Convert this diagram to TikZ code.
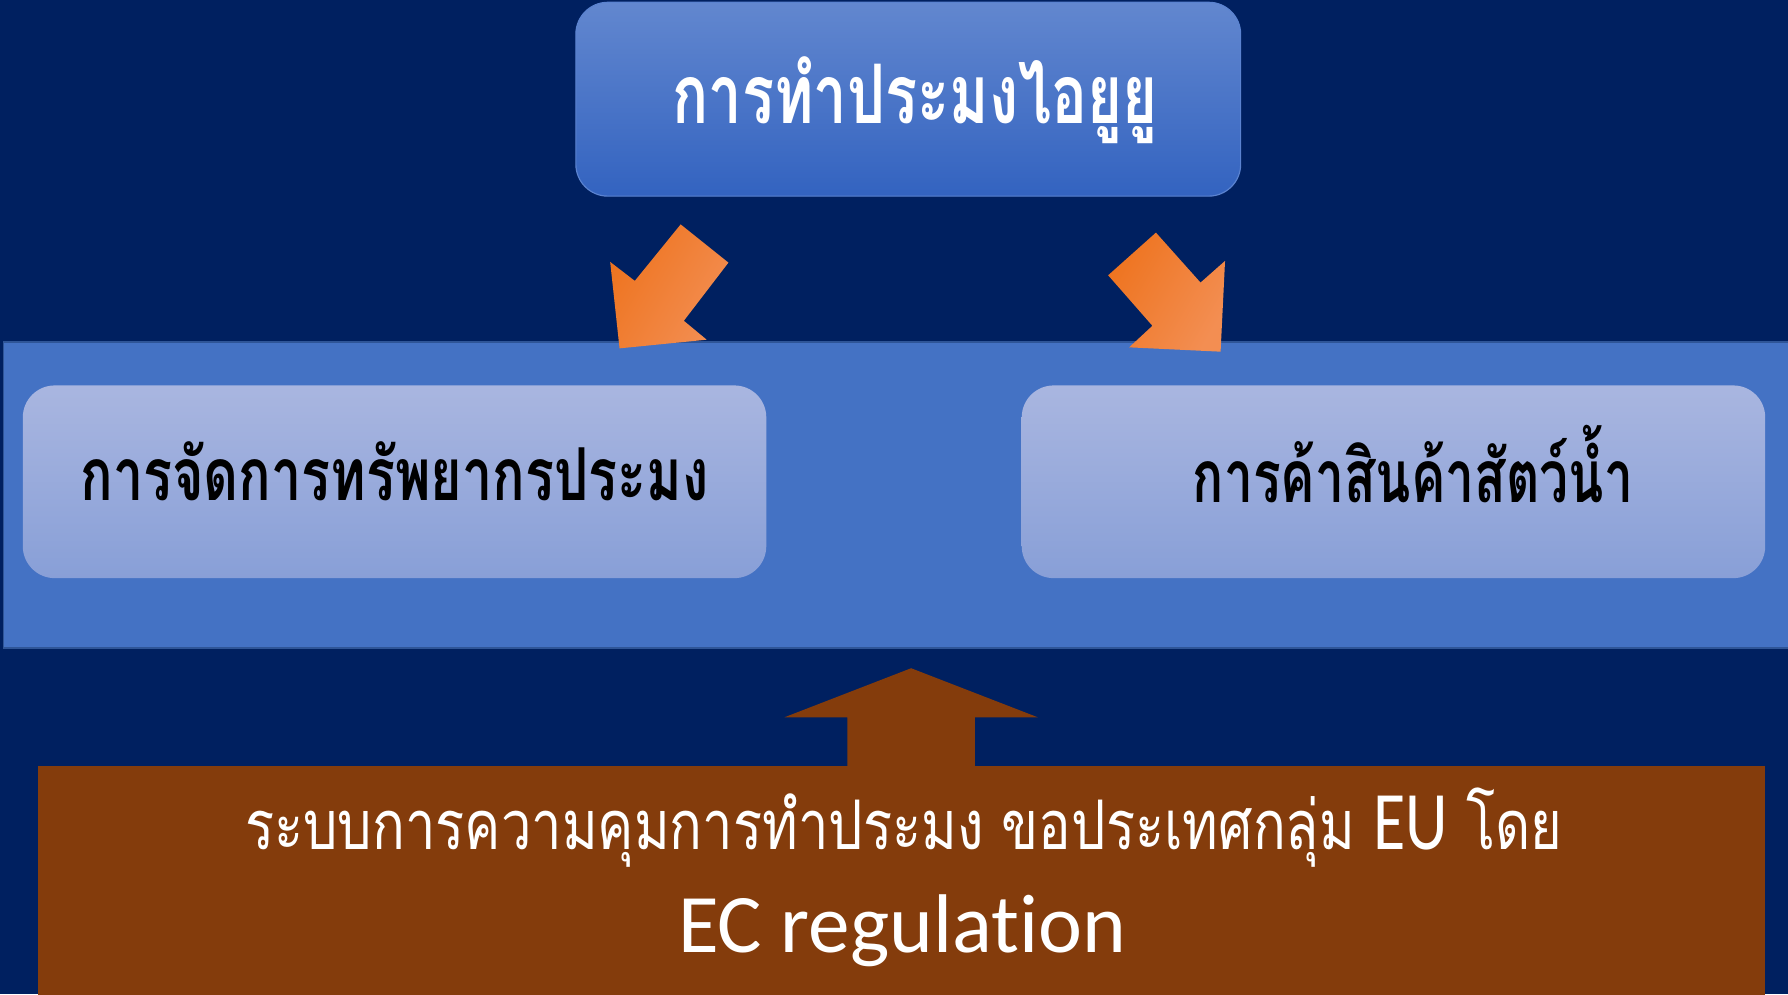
\documentclass[tikz,border=0pt]{standalone}
\usepackage{fontspec}
\setmainfont{Carlito}[Ligatures=NoCommon]
\newfontfamily\thaifont[Script=Thai]{Loma}
\definecolor{bgnavy}{HTML}{002060}
\definecolor{bandblue}{HTML}{4472C4}
\definecolor{bandedge}{HTML}{2F5597}
\definecolor{topA}{HTML}{6287CF}
\definecolor{topB}{HTML}{3363C0}
\definecolor{topedge}{HTML}{5B83D0}
\definecolor{innerA}{HTML}{A9B6E0}
\definecolor{innerB}{HTML}{889FD7}
\definecolor{orangeA}{HTML}{EE7420}
\definecolor{orangeB}{HTML}{F38E52}
\definecolor{brown}{HTML}{843C0C}
\tikzset{
  topbox/.style={draw=topedge, line width=1pt, rounded corners=28pt, top color=topA, bottom color=topB, minimum width=583pt, minimum height=170pt, inner sep=0pt},
  innerbox/.style={draw=none, rounded corners=28pt, top color=innerA, bottom color=innerB, minimum width=652pt, minimum height=169pt, inner sep=0pt},
  bandbox/.style={fill=bandblue, draw=bandedge, line width=1.5pt, inner sep=0pt},
  txt/.style={inner sep=0pt, anchor=base},
  orangearrow/.style={left color=orangeA, right color=orangeB, shading angle=60},
}
\begin{document}
\begin{tikzpicture}[x=1pt,y=-1pt]
\fill[bgnavy] (0,0) rectangle (1568,872);
\useasboundingbox (0,0) rectangle (1568,872);
% middle band
\node[bandbox, minimum width=1570pt, minimum height=268pt] (band) at (788,434) {};
% top box
\node[topbox] (top) at (796.5,87) {};
\node[txt, text=white] (toptxt) at (802.5,108) {\resizebox{425pt}{\height}{\fontsize{72pt}{80pt}\thaifont\bfseries การทำประมงไอยูยู}};
% inner boxes
\node[innerbox] (left) at (346,422.5) {};
\node[txt, text=black] (lefttxt) at (346,439) {\resizebox{551pt}{\height}{\fontsize{64pt}{74pt}\thaifont\bfseries การจัดการทรัพยากรประมง}};
\node[innerbox] (right) at (1222,422.5) {};
\node[txt, text=black] (righttxt) at (1239,441) {\resizebox{386pt}{\height}{\fontsize{64pt}{74pt}\thaifont\bfseries การค้าสินค้าสัตว์น้ำ}};
% orange arrows
\shade[orangearrow] (596.9,196.8) -- (638.8,230.3) -- (599.7,281.3) -- (619.7,297.9) -- (543.3,305.5) -- (535.1,229.7) -- (556.7,246.3) -- cycle;
\shade[orangearrow] (1013.7,204) -- (1052.8,247.8) -- (1074.3,228.8) -- (1070.4,308.4) -- (990.2,304.6) -- (1010.6,285.7) -- (971.8,241.4) -- cycle;
% brown box and arrow
\node[fill=brown, inner sep=0pt, minimum width=1515pt, minimum height=202pt] (bottom) at (790.5,773) {};
\fill[brown] (743,673) -- (743,629) -- (688,629) -- (799,586) -- (910,629) -- (855,629) -- (855,673) -- cycle;
\node[txt, text=white] (bottxt1) at (792.5,745) {\resizebox{1155pt}{\height}{\fontsize{60pt}{70pt}\thaifont ระบบการความคุมการทำประมง ขอประเทศกลุ่ม {\fontsize{73pt}{80pt}\rmfamily EU} โดย}};
\node[txt, text=white] (bottxt2) at (791,835) {\fontsize{73pt}{80pt}\selectfont EC regulation};
\end{tikzpicture}
\end{document}
